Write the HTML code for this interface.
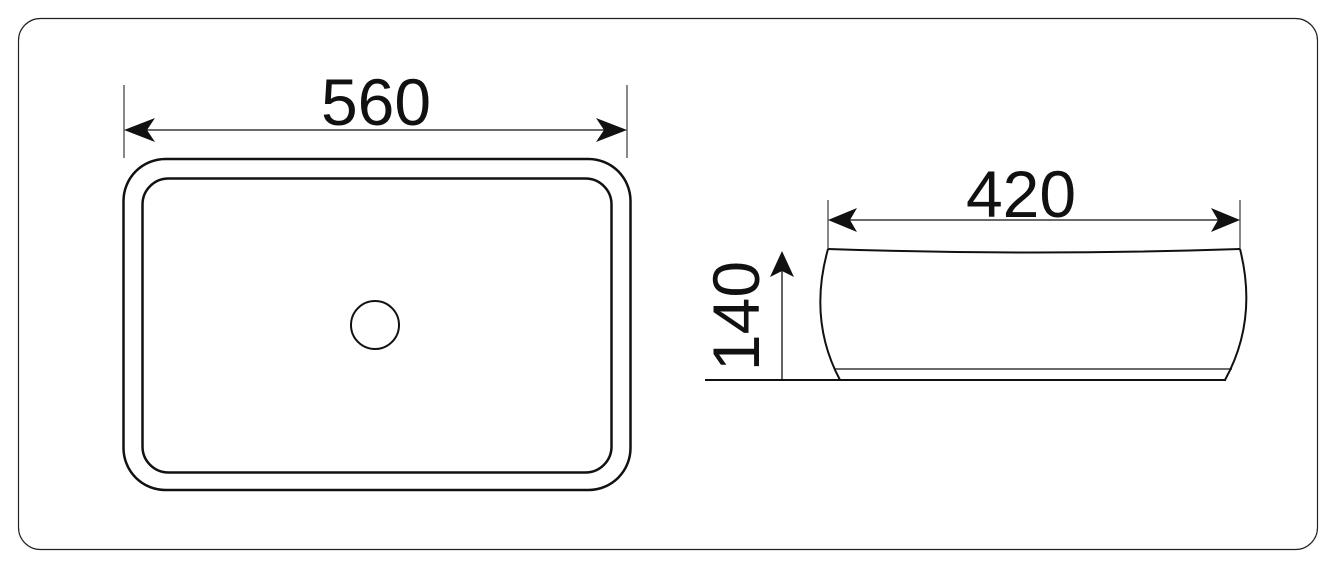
<!DOCTYPE html>
<html><head><style>body{margin:0;background:#fff}svg{display:block}</style></head><body>
<svg width="1335" height="567" viewBox="0 0 1335 567" xmlns="http://www.w3.org/2000/svg">
<rect x="18.5" y="18.5" width="1299" height="531" rx="22" fill="#fff" stroke="#222" stroke-width="1.2"/>
<g fill="none" stroke="#111">
<rect x="123.5" y="159" width="507" height="331" rx="42" stroke-width="2.5"/>
<rect x="142.5" y="178.5" width="469" height="294" rx="26" stroke-width="2.5"/>
<circle cx="375" cy="325" r="24" stroke-width="2"/>
<line x1="124" y1="85" x2="124" y2="158" stroke-width="1"/>
<line x1="627" y1="85" x2="627" y2="158" stroke-width="1"/>
<line x1="130" y1="130" x2="620" y2="130" stroke-width="1.2"/>
<line x1="828" y1="200" x2="828" y2="249" stroke-width="1"/>
<line x1="1240" y1="200" x2="1240" y2="249" stroke-width="1"/>
<line x1="834" y1="220" x2="1234" y2="220" stroke-width="1.2"/>
<path d="M828 249 Q1034 256 1240 249" stroke-width="2"/>
<path d="M828 249 Q808 320 840 380" stroke-width="2"/>
<path d="M1240 249 Q1258 320 1225 380" stroke-width="2"/>
<line x1="834" y1="369" x2="1232" y2="369" stroke-width="1.2"/>
<line x1="705" y1="380" x2="1226" y2="380" stroke-width="2"/>
<line x1="782" y1="380" x2="782" y2="265" stroke-width="1.3"/>
</g>
<g fill="#111">
<path d="M124 130 L155 118 L147 130 L155 142 Z"/>
<path d="M627 130 L596 118 L604 130 L596 142 Z"/>
<path d="M828 220 L857 208 L850 220 L857 232 Z"/>
<path d="M1240 220 L1211 208 L1218 220 L1211 232 Z"/>
<path d="M782 251 L770 277 L782 271 L794 277 Z"/>
</g>
<g font-family="Liberation Sans, sans-serif" font-size="66" fill="#111" text-anchor="middle">
<text x="376" y="125">560</text>
<text x="1021" y="217">420</text>
<text transform="translate(759,316) rotate(-90)">140</text>
</g>
</svg>
</body></html>
